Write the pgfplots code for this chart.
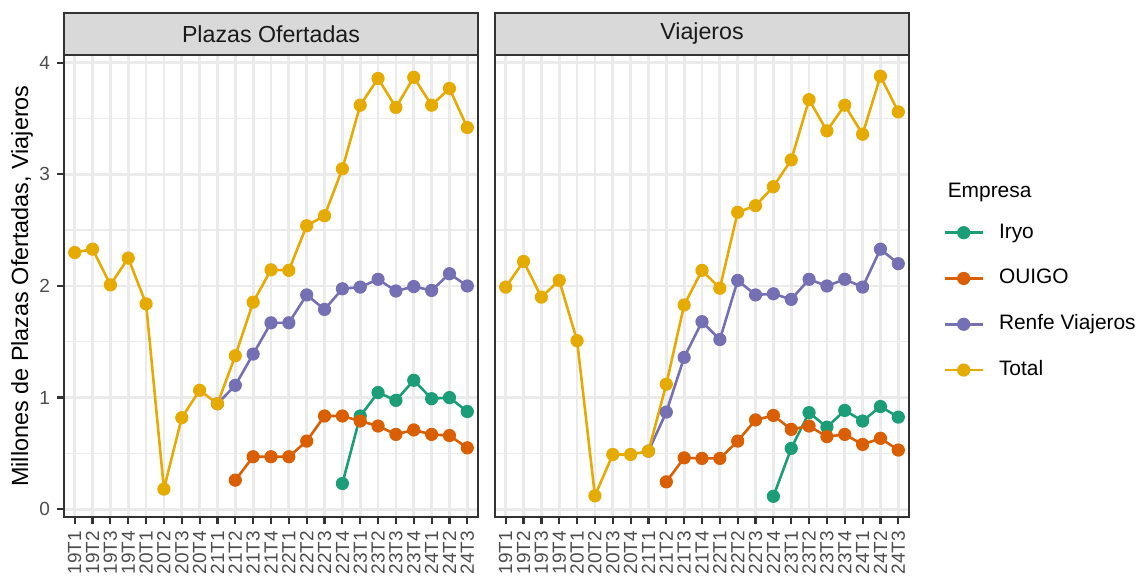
\documentclass[border=0pt]{standalone}
\usepackage{fontspec}
\setmainfont{Liberation Sans}
\usepackage{pgfplots}
\pgfplotsset{compat=1.18}
\definecolor{iryo}{HTML}{1B9E77}
\definecolor{ouigo}{HTML}{D95F02}
\definecolor{renfe}{HTML}{7570B3}
\definecolor{total}{HTML}{E6AB02}
\definecolor{grey92}{HTML}{EBEBEB}
\definecolor{grey85}{HTML}{D9D9D9}
\definecolor{grey20}{HTML}{333333}
\definecolor{grey30}{HTML}{4D4D4D}
\definecolor{grey10}{HTML}{1A1A1A}
\tikzset{strip/.style={grey20, fill=grey85, line width=1.1pt}}
\pgfplotsset{
  panel/.style={
    scale only axis, width=207pt, height=231pt,
    xmin=-0.6, xmax=22.6, ymin=-0.07, ymax=4.07,
    xtick={0,...,22},
    xticklabels={19T1,19T2,19T3,19T4,20T1,20T2,20T3,20T4,21T1,21T2,21T3,21T4,22T1,22T2,22T3,22T4,23T1,23T2,23T3,23T4,24T1,24T2,24T3},
    ytick={0,1,2,3,4}, minor ytick={0.5,1.5,2.5,3.5},
    xmajorgrids, ymajorgrids, yminorgrids,
    major grid style={grey92, line width=1.4pt},
    minor grid style={grey92, line width=0.7pt},
    axis line style={grey20, line width=1.1pt},
    tick align=outside, tick pos=left,
    major tick length=3.5pt, minor tick length=0pt,
    tick style={grey20, line width=1.1pt},
    xticklabel style={rotate=90, anchor=east, font=\fontsize{9.5}{10}\selectfont, text=grey30},
    yticklabel style={font=\fontsize{9.5}{10}\selectfont, text=grey30},
    /pgf/number format/assume math mode=true,
    clip=false,
    every axis plot/.append style={line width=1.3pt, mark=*, mark size=3pt, mark options={solid, line width=0.6pt}},
  },
}
\begin{document}
\begin{tikzpicture}
\useasboundingbox (0,0) rectangle (568pt,288.5pt);
% ---------- Plazas Ofertadas ----------
\begin{axis}[panel, at={(32pt,30pt)}, anchor=south west]
\addplot[iryo] coordinates {(15,0.23) (16,0.835) (17,1.045) (18,0.975) (19,1.155) (20,0.99) (21,1.0) (22,0.875)};
\addplot[ouigo] coordinates {(9,0.26) (10,0.47) (11,0.47) (12,0.47) (13,0.61) (14,0.835) (15,0.835) (16,0.79) (17,0.745) (18,0.67) (19,0.71) (20,0.67) (21,0.66) (22,0.55)};
\addplot[renfe] coordinates {(8,0.945) (9,1.11) (10,1.39) (11,1.67) (12,1.67) (13,1.92) (14,1.79) (15,1.975) (16,1.99) (17,2.06) (18,1.955) (19,1.995) (20,1.96) (21,2.11) (22,2.0)};
\addplot[total] coordinates {(0,2.30) (1,2.33) (2,2.01) (3,2.25) (4,1.84) (5,0.18) (6,0.82) (7,1.065) (8,0.945) (9,1.375) (10,1.855) (11,2.145) (12,2.14) (13,2.54) (14,2.63) (15,3.05) (16,3.62) (17,3.86) (18,3.60) (19,3.87) (20,3.62) (21,3.77) (22,3.42)};
\draw[strip] (rel axis cs:0,1) rectangle ([yshift=21pt]rel axis cs:1,1);
\node[text=grey10, font=\fontsize{11.6}{13}\selectfont] at ([yshift=10.5pt]rel axis cs:0.5,1) {Plazas Ofertadas};
\end{axis}
% ---------- Viajeros ----------
\begin{axis}[panel, at={(247.5pt,30pt)}, anchor=south west,
  yticklabels={}, ytick style={draw=none},
  legend style={at={(1.0821,0.4667)}, anchor=west, draw=none, fill=none, inner sep=0pt,
    nodes={inner sep=0pt, anchor=west, font=\fontsize{10.45}{12}\selectfont, text height=7.5pt, text depth=2pt},
    /tikz/row sep=13.4pt, /tikz/column sep=7.5pt},
  legend cell align=left,
  legend image code/.code={\draw[mark repeat=2, mark phase=2, #1] plot coordinates {(0pt,0pt) (9.5pt,0pt) (19pt,0pt)};}]
\addplot[iryo] coordinates {(15,0.115) (16,0.545) (17,0.865) (18,0.735) (19,0.885) (20,0.79) (21,0.92) (22,0.825)};
\addlegendentry{Iryo}
\addplot[ouigo] coordinates {(9,0.245) (10,0.46) (11,0.455) (12,0.455) (13,0.61) (14,0.80) (15,0.84) (16,0.715) (17,0.745) (18,0.65) (19,0.67) (20,0.58) (21,0.635) (22,0.53)};
\addlegendentry{OUIGO}
\addplot[renfe] coordinates {(8,0.52) (9,0.87) (10,1.36) (11,1.68) (12,1.52) (13,2.05) (14,1.92) (15,1.93) (16,1.88) (17,2.06) (18,2.0) (19,2.06) (20,1.99) (21,2.33) (22,2.20)};
\addlegendentry{Renfe Viajeros}
\addplot[total] coordinates {(0,1.99) (1,2.22) (2,1.90) (3,2.05) (4,1.51) (5,0.12) (6,0.49) (7,0.49) (8,0.52) (9,1.12) (10,1.83) (11,2.14) (12,1.98) (13,2.66) (14,2.72) (15,2.89) (16,3.13) (17,3.67) (18,3.39) (19,3.62) (20,3.36) (21,3.88) (22,3.56)};
\addlegendentry{Total}
\draw[strip] (rel axis cs:0,1) rectangle ([yshift=21pt]rel axis cs:1,1);
\node[text=grey10, font=\fontsize{11.6}{13}\selectfont] at ([yshift=10.5pt]rel axis cs:0.5,1) {Viajeros};
\node[anchor=base west, font=\fontsize{10.45}{12}\selectfont] at (rel axis cs:1.0766,0.6905) {Empresa};
\end{axis}
\node[rotate=90, font=\fontsize{11.7}{13}\selectfont] at (11pt,145.5pt) {Millones de Plazas Ofertadas, Viajeros};
\end{tikzpicture}
\end{document}
